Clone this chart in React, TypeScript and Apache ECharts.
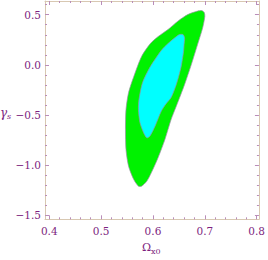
import React, { useEffect, useRef } from "react";
import * as echarts from "echarts";

// ---- data ----
const xMajorTicks = [0.4, 0.5, 0.6, 0.7, 0.8];
const xMinorTicks = [0.42, 0.44, 0.46, 0.48, 0.52, 0.54, 0.56, 0.58, 0.62, 0.64, 0.66, 0.68, 0.72, 0.74, 0.76, 0.78];
const yMajorTicks = [-1.5, -1.0, -0.5, 0.0, 0.5];
const yMinorTicks = [-1.4, -1.3, -1.2, -1.1, -0.9, -0.8, -0.7, -0.6, -0.4, -0.3, -0.2, -0.1, 0.1, 0.2, 0.3, 0.4, 0.6];
const xRange = [0.3918, 0.8044];
const yRange = [-1.54, 0.6366];

// outer (green) confidence region boundary: [Omega_x0, gamma_s]
const outerRegion: number[][] = [
  [0.686, 0.536], [0.694, 0.541], [0.699, 0.521], [0.7, 0.482], [0.696, 0.372],
  [0.686, 0.202], [0.674, 0.003], [0.661, -0.196], [0.65, -0.346], [0.644, -0.425],
  [0.635, -0.545], [0.623, -0.745], [0.61, -0.924], [0.597, -1.074], [0.588, -1.161],
  [0.578, -1.21], [0.572, -1.21], [0.563, -1.144], [0.553, -1.011], [0.548, -0.844],
  [0.547, -0.645], [0.548, -0.446], [0.553, -0.276], [0.563, -0.117], [0.578, 0.083],
  [0.595, 0.212], [0.61, 0.282], [0.629, 0.352], [0.648, 0.435], [0.667, 0.501],
];
// inner (cyan) confidence region boundary
const innerRegion: number[][] = [
  [0.651, 0.302], [0.658, 0.302], [0.661, 0.269], [0.66, 0.202], [0.659, 0.133],
  [0.654, -0.027], [0.645, -0.196], [0.635, -0.326], [0.625, -0.39], [0.616, -0.463],
  [0.604, -0.612], [0.594, -0.712], [0.588, -0.728], [0.582, -0.678], [0.575, -0.578],
  [0.572, -0.446], [0.573, -0.346], [0.58, -0.176], [0.595, -0.017], [0.616, 0.143],
  [0.629, 0.212], [0.642, 0.269],
];

const FRAME = "#d8c8b2";
const TICK = "#b98db9";
const LABEL = "#7d1f80";
const FONT = "DejaVu Serif";

const fmt = (v: number) => (v < 0 ? "\u2212" : "") + Math.abs(v).toFixed(1);

function makeAxis(pos: string, range: number[], ticks: number[], major: boolean, labels: boolean, line: boolean) {
  return {
    type: "value",
    position: pos,
    min: range[0],
    max: range[1],
    splitLine: { show: false },
    axisLine: { show: line, onZero: false, lineStyle: { color: FRAME, width: 1 } },
    axisTick: {
      show: true,
      inside: true,
      length: major ? 4 : 2,
      customValues: ticks,
      lineStyle: { color: TICK, width: 1 },
    },
    axisLabel: labels
      ? {
          show: true,
          customValues: ticks,
          formatter: fmt,
          color: LABEL,
          fontFamily: FONT,
          fontSize: 10.5,
          margin: pos === "left" ? 4 : 6,
        }
      : { show: false },
  };
}

function regionSeries(points: number[][], fill: string, z: number) {
  return {
    type: "custom",
    xAxisIndex: 0,
    yAxisIndex: 0,
    z,
    data: points,
    renderItem: (params: any, api: any) => {
      if (params.dataIndex !== 0) return null;
      const pts = points.map((p) => api.coord(p));
      return {
        type: "polygon",
        shape: { points: pts, smooth: 0.25 },
        style: { fill, stroke: "#9c8fa6", lineWidth: 0.7 },
      };
    },
  };
}

export default function App() {
  const ref = useRef<HTMLDivElement>(null);
  useEffect(() => {
    if (!ref.current) return;
    const chart = echarts.init(ref.current, null, { renderer: "svg" });
    chart.setOption({
      animation: false,
      backgroundColor: "#ffffff",
      textStyle: { fontFamily: FONT },
      grid: { left: 45, top: 1, width: 217.3, height: 218.3, containLabel: false },
      xAxis: [
        makeAxis("bottom", xRange, xMajorTicks, true, true, true),
        makeAxis("bottom", xRange, xMinorTicks, false, false, false),
        makeAxis("top", xRange, xMajorTicks, true, false, true),
        makeAxis("top", xRange, xMinorTicks, false, false, false),
      ],
      yAxis: [
        makeAxis("left", yRange, yMajorTicks, true, true, true),
        makeAxis("left", yRange, yMinorTicks, false, false, false),
        makeAxis("right", yRange, yMajorTicks, true, false, true),
        makeAxis("right", yRange, yMinorTicks, false, false, false),
      ],
      series: [regionSeries(outerRegion, "#00f200", 2), regionSeries(innerRegion, "#00ffff", 3)],
      graphic: [
        {
          type: "text",
          left: 0,
          top: 107,
          style: { text: "\u03b3", fill: LABEL, fontFamily: FONT, fontStyle: "italic", fontSize: 12 },
        },
        {
          type: "text",
          left: 7,
          top: 112,
          style: { text: "s", fill: LABEL, fontFamily: FONT, fontStyle: "italic", fontSize: 8 },
        },
        {
          type: "text",
          left: 142,
          top: 242,
          style: { text: "\u03a9", fill: LABEL, fontFamily: FONT, fontSize: 11 },
        },
        {
          type: "text",
          left: 151,
          top: 247,
          style: { text: "x0", fill: LABEL, fontFamily: FONT, fontSize: 8 },
        },
      ],
    });
    return () => chart.dispose();
  }, []);
  return (
    <div
      ref={ref}
      style={{ position: "fixed", left: 0, top: 0, width: 268, height: 260 }}
    />
  );
}
